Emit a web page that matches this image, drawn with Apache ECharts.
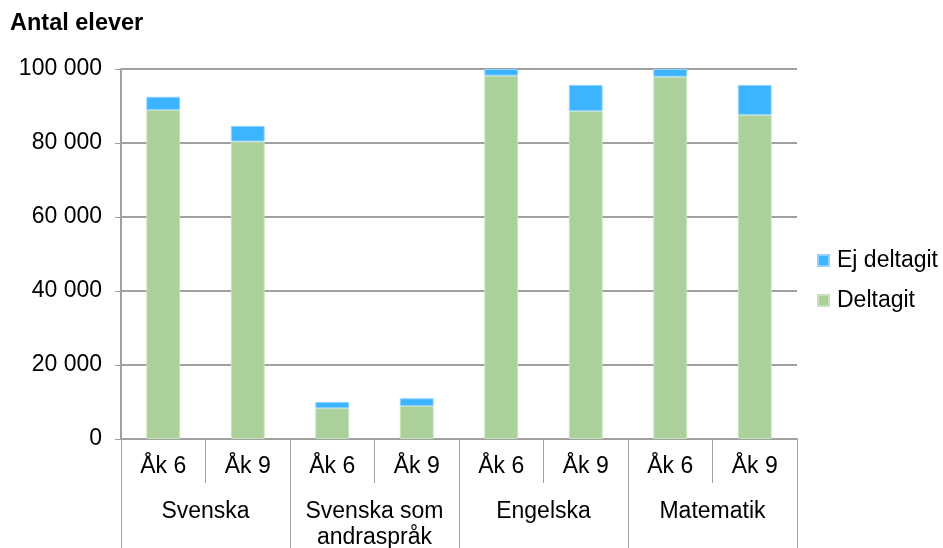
<!DOCTYPE html>
<html><head><meta charset="utf-8">
<script src="https://cdn.jsdelivr.net/npm/echarts@6/dist/echarts.min.js"></script>
<style>html,body{margin:0;padding:0;background:#fff}#c{width:943px;height:548px}</style>
</head><body><div id="c"></div>
<script>
const grades = ['Åk 6','Åk 9','Åk 6','Åk 9','Åk 6','Åk 9','Åk 6','Åk 9'];
const subjects = ['Svenska','Svenska som\nandraspråk','Engelska','Matematik'];
const deltagit = [88900, 80400, 8300, 8900, 98200, 88600, 97900, 87600];
const ejDeltagit = [3600, 4200, 1700, 2100, 1800, 7100, 2100, 8100];
const yTicks = [0, 20000, 40000, 60000, 80000, 100000];

const font = 'Liberation Sans, Arial, sans-serif';
const chart = echarts.init(document.getElementById('c'));
chart.setOption({
  animation: false,
  textStyle: {fontFamily: font},
  title: {text: 'Antal elever', left: 10, top: 12, padding: 0, textStyle: {fontSize: 23.5, fontWeight: 'bold', color: '#000', fontFamily: font}},
  legend: {
    orient: 'vertical', left: 817, top: 249, itemWidth: 11, itemHeight: 11, itemGap: 17, padding: 0,
    icon: 'rect',
    data: ['Ej deltagit', 'Deltagit'],
    textStyle: {fontSize: 23, color: '#000', fontFamily: font, padding: [0, 0, 0, 3]}
  },
  grid: {left: 121, right: 146, top: 69, bottom: 109, containLabel: false, outerBoundsMode: 'none'},
  xAxis: [{
    type: 'category', data: grades, position: 'bottom',
    axisLine: {lineStyle: {color: '#a0a0a0', width: 2}},
    axisTick: {show: true, interval: 0, length: 44, lineStyle: {color: '#a0a0a0', width: 1}},
    axisLabel: {interval: 0, fontSize: 23, color: '#000', margin: 16, fontFamily: font}
  }, {
    type: 'category', data: subjects, position: 'bottom', offset: 44,
    axisLine: {show: false},
    axisTick: {show: true, interval: 0, length: 70, lineStyle: {color: '#a0a0a0', width: 1}},
    axisLabel: {interval: 0, fontSize: 23, color: '#000', margin: 16, lineHeight: 26, fontFamily: font}
  }],
  yAxis: {
    type: 'value', min: 0, max: 100000, interval: 20000,
    axisLine: {show: true, lineStyle: {color: '#a0a0a0', width: 2}},
    axisTick: {show: true, length: 6, lineStyle: {color: '#a0a0a0'}},
    splitLine: {lineStyle: {color: '#a0a0a0', width: 2}},
    axisLabel: {fontSize: 23, color: '#000', margin: 19, fontFamily: font,
      formatter: v => yTicks.includes(v) ? String(v).replace(/\B(?=(\d{3})+(?!\d))/g, ' ') : ''}
  },
  series: [{
    name: 'Deltagit', type: 'bar', stack: 'a', data: deltagit, barWidth: '40%', xAxisIndex: 0,
    itemStyle: {color: '#abd09a', borderColor: '#c8e2bc', borderWidth: 1}
  }, {
    name: 'Ej deltagit', type: 'bar', stack: 'a', data: ejDeltagit, barWidth: '40%', xAxisIndex: 0,
    itemStyle: {color: '#3cb4ff', borderColor: '#8fd2ff', borderWidth: 1}
  }]
});
</script></body></html>
